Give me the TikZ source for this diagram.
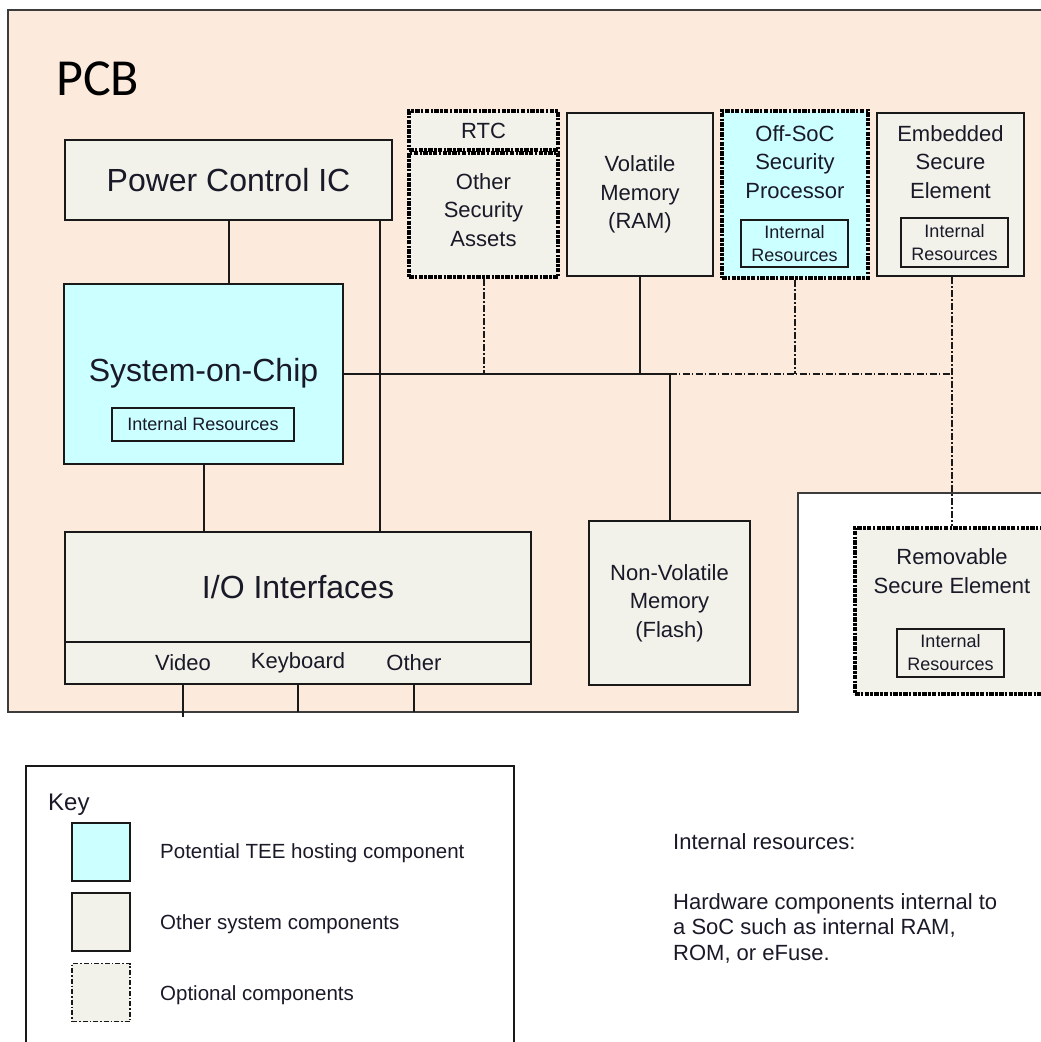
\documentclass[tikz,border=0pt]{standalone}
\usepackage{fontspec}
\setmainfont{Liberation Sans}
\newfontfamily\pcbfont{Carlito}
\usetikzlibrary{calc}

\definecolor{pcbfill}{RGB}{252,234,221}
\definecolor{compfill}{RGB}{242,242,235}
\definecolor{teefill}{RGB}{204,255,255}
\definecolor{edge}{RGB}{25,25,25}
\definecolor{pcbedge}{RGB}{60,60,60}
\definecolor{ink}{RGB}{25,25,40}

\tikzset{
  x=1pt, y=-1pt,
  comp/.style={draw=edge, line width=2pt, fill=compfill, inner sep=0pt,
    align=center, text=ink, font=\fontsize{22}{28.5}\selectfont},
  tee/.style={comp, fill=teefill},
  optbox/.style={draw=black, line width=4pt, dash pattern=on 4.5pt off 1.3pt on 2.5pt off 1.3pt},
  res/.style={draw=edge, line width=1.6pt, inner sep=0pt, align=center, text=ink,
    font=\fontsize{18}{23}\selectfont},
  bigtext/.style={font=\fontsize{32}{38}\selectfont},
  txt/.style={inner sep=0pt, text=ink, align=center, font=\fontsize{22}{28.5}\selectfont},
  link/.style={draw=edge, line width=2pt},
  optlink/.style={draw=edge, line width=2pt, dash pattern=on 7pt off 2.2pt on 1.6pt off 2.2pt},
  keytxt/.style={inner sep=0pt, text=ink, anchor=west, font=\fontsize{20.5}{25}\selectfont},
}

\begin{document}
\begin{tikzpicture}
\useasboundingbox (0,0) rectangle (1041,1042);
\clip (0,0) rectangle (1041,1042);

% printed circuit board outline
\draw[fill=pcbfill, draw=pcbedge, line width=2.4pt]
  (8,10) -- (1070,10) -- (1070,493) -- (798,493) -- (798,712) -- (8,712) -- cycle;
\node[anchor=base west, inner sep=0pt, text=black, font=\pcbfont\fontsize{52}{56}\selectfont]
  (pcblabel) at (56,95) {PCB};

% left column
\node[comp, bigtext, minimum width=327pt, minimum height=80pt] (pwr) at (228.5,180) {Power Control IC};
\node[tee, bigtext, minimum width=279pt, minimum height=180pt] (soc) at (203.5,374) {};
\node[txt, bigtext] (soctext) at (203.5,373) {System-on-Chip};
\node[res, fill=teefill, minimum width=182pt, minimum height=33pt] (socres) at (203,424.5) {Internal Resources};

\node[comp, bigtext, minimum width=466pt, minimum height=110pt] (io) at (298,587) {I/O Interfaces};
\node[comp, minimum width=466pt, minimum height=42pt] (iobar) at (298,663) {};
\node[txt] (video) at (183,663) {Video};
\node[txt] (keyboard) at (298,663) {Keyboard};
\node[txt] (other) at (414,663) {Other};

% top row of components
\node[comp, optbox, minimum width=149pt, minimum height=39pt] (rtc) at (483.5,130.5) {RTC};
\node[comp, optbox, minimum width=149pt, minimum height=124pt] (osa) at (483.5,215) {};
\node[txt] (osatext) at (483.5,210) {Other\\Security\\Assets};
\node[comp, minimum width=146pt, minimum height=163pt] (ram) at (640,194.5) {Volatile\\Memory\\(RAM)};
\node[tee, optbox, minimum width=146pt, minimum height=167pt] (offsoc) at (795,194.5) {};
\node[txt] (offsoctext) at (795,162) {Off-SoC\\Security\\Processor};
\node[res, fill=teefill, minimum width=107pt, minimum height=47pt] (offres) at (794.5,243.5) {Internal\\Resources};
\node[comp, minimum width=147pt, minimum height=163pt] (ese) at (950.5,194.5) {};
\node[txt] (esetext) at (950.5,162) {Embedded\\Secure\\Element};
\node[res, fill=compfill, minimum width=107pt, minimum height=49pt] (eseres) at (954.5,242.5) {Internal\\Resources};

% lower right components
\node[comp, minimum width=161pt, minimum height=164pt] (nvm) at (669.5,603) {Non-Volatile\\Memory\\(Flash)};
\node[comp, optbox, minimum width=194pt, minimum height=166pt] (rse) at (952,611) {};
\node[txt] (rsetext) at (952,571) {Removable\\Secure Element};
\node[res, fill=compfill, minimum width=107pt, minimum height=48pt] (rseres) at (950.5,653) {Internal\\Resources};

% connectors
\coordinate (pwrtap) at ($(pwr.south east)+(-13,0)$);
\draw[link] (pwr.south) -- (pwr.south |- soc.north);
\draw[link] (pwrtap) -- (pwrtap |- io.north);
\draw[link] (soc.south) -- (soc.south |- io.north);
\draw[link] (soc.east) -- (soc.east -| nvm.north);
\draw[link] (ram.south) -- (ram.south |- soc.east);
\draw[link] (nvm.north) -- (nvm.north |- soc.east);
\draw[optlink] (osa.south) -- (osa.south |- soc.east);
\draw[optlink] (soc.east -| nvm.north) -- (soc.east -| rse.north);
\draw[optlink] (offsoc.south) -- (offsoc.south |- soc.east);
\draw[optlink] (ese.south -| rse.north) -- (rse.north);

\coordinate (videoend) at (183,717);
\coordinate (keyboardend) at (298,712);
\coordinate (otherend) at (414,712);
\draw[link] (video |- iobar.south) -- (videoend);
\draw[link] (keyboard |- iobar.south) -- (keyboardend);
\draw[link] (other |- iobar.south) -- (otherend);

% key
\draw[draw=edge, line width=2pt] (26,1060) -- (26,766) -- (514,766) -- (514,1060);
\node[anchor=base west, inner sep=0pt, text=ink, font=\fontsize{24}{28}\selectfont] (keytitle) at (48,810) {Key};
\node[draw=edge, line width=2pt, fill=teefill, minimum size=58pt] (keytee) at (101,852) {};
\node[draw=edge, line width=2pt, fill=compfill, minimum size=58pt] (keycomp) at (101,922) {};
\node[draw=edge, line width=1.6pt, fill=compfill, minimum size=58pt,
  dash pattern=on 5pt off 2pt on 1.5pt off 2pt] (keyopt) at (101,992.5) {};
\node[keytxt] (keyteetext) at (160,853) {Potential TEE hosting component};
\node[keytxt] (keycomptext) at (160,924) {Other system components};
\node[keytxt] (keyopttext) at (160,995) {Optional components};

% note on internal resources
\node[anchor=base west, inner sep=0pt, text=ink, font=\fontsize{22}{25.5}\selectfont]
  (notehead) at (673,849) {Internal resources:};
\node[anchor=north west, inner sep=0pt, text=ink, align=left, font=\fontsize{22}{25.5}\selectfont]
  (notebody) at (673,893) {Hardware components internal to\\a SoC such as internal RAM,\\ROM, or eFuse.};
\end{tikzpicture}
\end{document}
